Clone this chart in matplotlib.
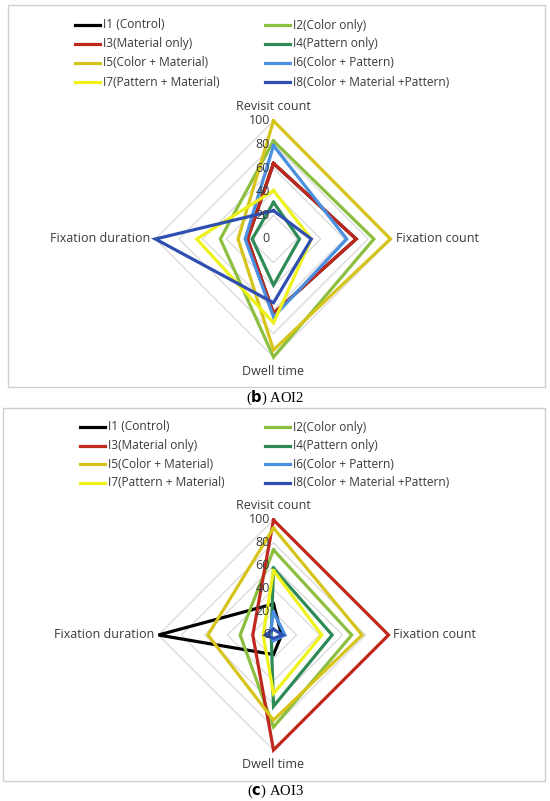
import numpy as np
import matplotlib
matplotlib.use("Agg")
import matplotlib.pyplot as plt
from matplotlib.patches import Rectangle
from matplotlib.lines import Line2D

axes_names = ["Revisit count", "Fixation count", "Dwell time", "Fixation duration"]
series_names = ["I1 (Control)", "I2(Color only)", "I3(Material only)", "I4(Pattern only)",
                "I5(Color + Material)", "I6(Color + Pattern)", "I7(Pattern + Material)",
                "I8(Color + Material +Pattern)"]
colors = ["#000000", "#8cbf3f", "#c0281e", "#2e8b57", "#d6c41a", "#4a8fe0", "#eef21a", "#2f4fb0"]
ticks = [0, 20, 40, 60, 80, 100]

# values per series: revisit, fixation count, dwell time, fixation duration
aoi2 = {
    "I1": [64, 70, 63, 22],
    "I2": [83, 85, 100, 45],
    "I3": [64, 70, 63, 22],
    "I4": [31, 22, 39, 18],
    "I5": [100, 99, 94, 30],
    "I6": [79, 62, 66, 24],
    "I7": [41, 32, 71, 65],
    "I8": [24, 32, 54, 100],
}
aoi3 = {
    "I1": [27, 7, 17, 100],
    "I2": [74, 68, 80, 29],
    "I3": [100, 100, 100, 18],
    "I4": [58, 51, 62, 2],
    "I5": [93, 77, 74, 57],
    "I6": [20, 10, 5, 3],
    "I7": [56, 42, 51, 9],
    "I8": [5, 8, 3, 7],
}

angles = np.array([0, 90, 180, 270]) * np.pi / 180.0
TXT = "#3a3a3a"


def to_xy(vals):
    v = np.array(list(vals) + [vals[0]], dtype=float)
    a = np.append(angles, angles[0])
    return v * np.sin(a), v * np.cos(a)


def radar(ax, data, lim):
    ax.set_xlim(-lim, lim)
    ax.set_ylim(-lim, lim)
    ax.set_aspect("equal")
    ax.axis("off")
    for t in ticks[1:]:
        x, y = to_xy([t] * 4)
        ax.plot(x, y, color="#d9d9d9", lw=0.9, zorder=1)
    for k, c in zip(data.keys(), colors):
        x, y = to_xy(data[k])
        ax.plot(x, y, color=c, lw=2.3, solid_joinstyle="miter", zorder=2)
    for t in ticks:
        ax.text(-3, t, str(t), ha="right", va="center", fontsize=9,
                color=TXT, family="Open Sans", zorder=3)
    kw = dict(fontsize=9, color=TXT, family="Open Sans")
    ax.text(0, 107, axes_names[0], ha="center", va="bottom", **kw)
    ax.text(104, 0, axes_names[1], ha="left", va="center", **kw)
    ax.text(0, -107, axes_names[2], ha="center", va="top", **kw)
    ax.text(-104, 0, axes_names[3], ha="right", va="center", **kw)


def legend(fig, x1, x2, ys):
    W, H = 550.0, 801.0
    for i, (name, c) in enumerate(zip(series_names, colors)):
        col, row = i % 2, i // 2
        x0 = x1 if col == 0 else x2
        y = ys[row]
        fig.add_artist(Line2D([x0 / W, (x0 + 25) / W], [1 - y / H, 1 - y / H],
                              color=c, lw=2.3, transform=fig.transFigure))
        fig.text((x0 + 28) / W, 1 - y / H, name, ha="left", va="center",
                 fontsize=8.6, color=TXT, family="Open Sans")


fig = plt.figure(figsize=(5.5, 8.01), dpi=100)
W, H = 550.0, 801.0

# panel frames
fig.add_artist(Rectangle((8 / W, 1 - 387 / H), 537 / W, 382 / H, transform=fig.transFigure,
                         fill=False, ec="#cfcfcf", lw=1))
fig.add_artist(Rectangle((3 / W, 1 - 781 / H), 542 / W, 373 / H, transform=fig.transFigure,
                         fill=False, ec="#cfcfcf", lw=1))

ax1 = fig.add_axes([123.5 / W, (801 - 239 - 150) / H, 300 / W, 300 / H])
radar(ax1, aoi2, 127)
ax2 = fig.add_axes([123.5 / W, (801 - 635 - 150) / H, 300 / W, 300 / H])
radar(ax2, aoi3, 130.4)

legend(fig, 75, 265, [25, 44, 63, 82])
legend(fig, 80, 265, [427, 446, 464, 483])

fig.text(0.5, 1 - 398 / H, r"($\mathbf{b}$) AOI2", ha="center", va="center",
         fontsize=10.5, family="Liberation Serif")
fig.text(0.5, 1 - 791 / H, r"($\mathbf{c}$) AOI3", ha="center", va="center",
         fontsize=10.5, family="Liberation Serif")

fig.savefig("out.png", dpi=100)
